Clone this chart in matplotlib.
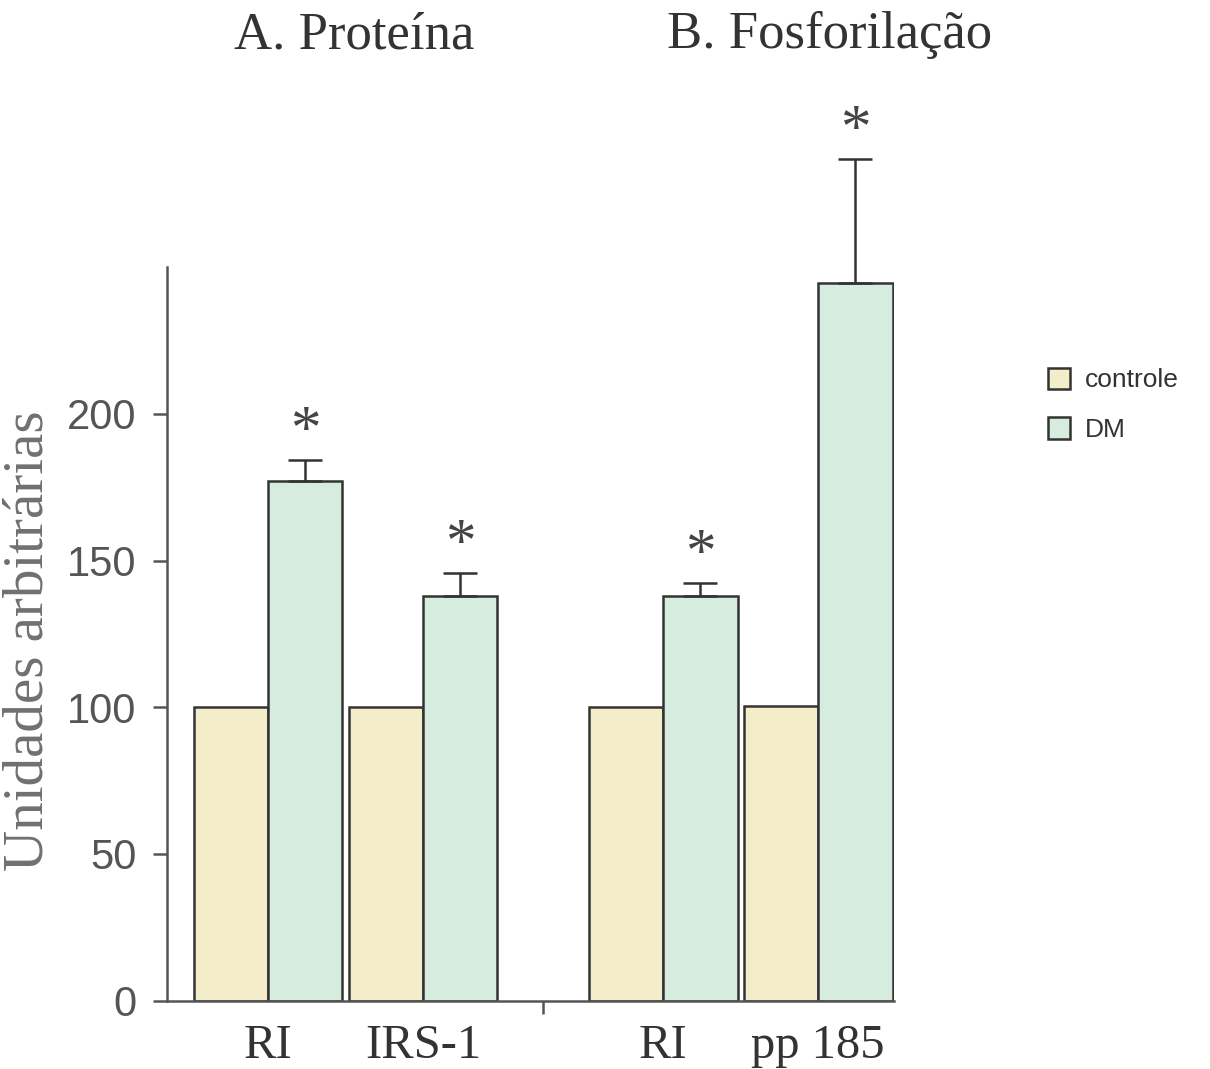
import numpy as np
import matplotlib
matplotlib.use("Agg")
import matplotlib.pyplot as plt
from matplotlib.patches import Patch

# data
categories = ["RI", "IRS-1", "RI", "pp 185"]
controle = [100, 100, 100, 100.5]
dm = [177, 138, 138, 244.5]
dm_err = [7.2, 7.8, 4.2, 42.5]
titles = ["A. Proteína", "B. Fosforilação"]
yticks = [0, 50, 100, 150, 200]

col_ctrl = "#f4edca"
col_dm = "#d5ecdf"
edge = "#333333"
axis_col = "#555555"

serif = ["Liberation Serif", "DejaVu Serif"]
sans = ["Liberation Sans", "DejaVu Sans"]

fig = plt.figure(figsize=(12.1, 10.69), dpi=100)
ax = fig.add_axes([0.138, 0.064, 0.601, 0.686])

# two groups of two categories, wider gap between groups
group_shift = np.array([0, 0, 0.55, 0.55])
x = np.arange(len(categories)) + group_shift
w = 0.48

ax.bar(x - w / 2, controle, w, color=col_ctrl, edgecolor=edge, linewidth=1.8)
ax.bar(x + w / 2, dm, w, color=col_dm, edgecolor=edge, linewidth=1.8)

eb = ax.errorbar(x + w / 2, dm, yerr=[np.zeros(len(dm)), dm_err], fmt="none",
                 ecolor=edge, elinewidth=1.8, capsize=12, capthick=1.8)
for part in eb.lines:
    if part is None:
        continue
    if isinstance(part, tuple):
        for a in part:
            a.set_clip_on(False)
    else:
        part.set_clip_on(False)

# significance marks
for xi, yi, ei in zip(x + w / 2, dm, dm_err):
    ax.text(xi, yi + ei + 9.5, "*", ha="center", va="center", fontsize=44,
            family=serif, color="#444444")

ax.set_ylim(0, 250)
ax.set_xlim(x[0] - 0.652, x[-1] + w + 0.01)

ax.spines["top"].set_visible(False)
ax.spines["right"].set_visible(False)
for s in ("left", "bottom"):
    ax.spines[s].set_color(axis_col)
    ax.spines[s].set_linewidth(1.8)

ax.set_yticks(yticks)
ax.set_yticklabels([str(t) for t in yticks], family=sans, fontsize=30,
                   color="#555555")
ax.tick_params(axis="y", direction="out", length=10, width=1.8,
               color=axis_col, pad=12)

ax.set_xticks(x)
ax.set_xticklabels(categories, family=serif, fontsize=35, color="#333333")
ax.tick_params(axis="x", which="major", length=0, pad=17)
sep = (x[1] + w + x[2] - w) / 2
ax.set_xticks([sep], minor=True)
ax.tick_params(axis="x", which="minor", direction="out", length=9, width=1.8,
               color=axis_col)

fig.text(0.002, 0.401, "Unidades arbitrárias", rotation=90, ha="left",
         va="center", family=serif, fontsize=41, color="#707070")

fig.text(0.293, 0.967, titles[0], ha="center", va="center", family=serif,
         fontsize=38, color="#333333")
fig.text(0.686, 0.967, titles[1], ha="center", va="center", family=serif,
         fontsize=38, color="#333333")

handles = [Patch(facecolor=col_ctrl, edgecolor=edge, linewidth=1.8),
           Patch(facecolor=col_dm, edgecolor=edge, linewidth=1.8)]
fig.legend(handles, ["controle", "DM"], loc="upper left",
           bbox_to_anchor=(0.866, 0.656), frameon=False, borderpad=0,
           borderaxespad=0, handlelength=0.85, handleheight=0.85,
           handletextpad=0.55, labelspacing=0.95,
           prop={"family": sans, "size": 19}, labelcolor="#333333")

fig.savefig("out.png", dpi=100)
